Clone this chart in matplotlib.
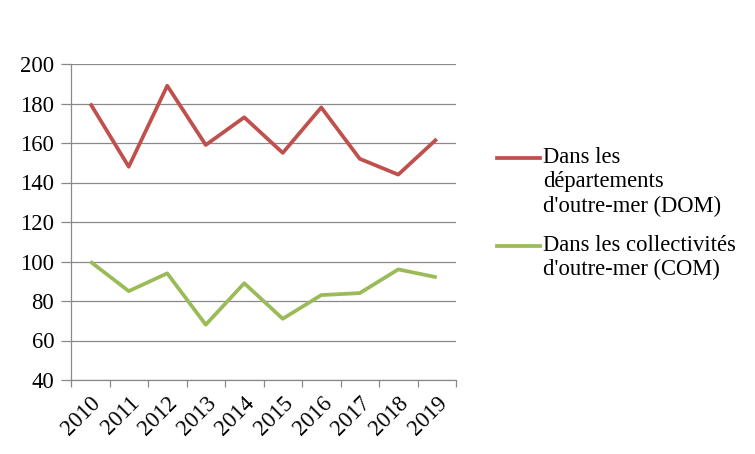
import matplotlib.pyplot as plt
from matplotlib.lines import Line2D

# ---------------------------------------------------------------- data
years = ['2010', '2011', '2012', '2013', '2014', '2015', '2016', '2017', '2018', '2019']
dom = [180, 148, 189, 159, 173, 155, 178, 152, 144, 162]
com = [100, 85, 94, 68, 89, 71, 83, 84, 96, 92]
labels = ["Dans les\ndépartements\nd'outre-mer (DOM)",
          "Dans les collectivités\nd'outre-mer (COM)"]

C_RED, C_GREEN, C_GRID = '#C0504D', '#9BBB59', '#898989'
FS = 16.3

plt.rcParams['font.family'] = ['Liberation Serif', 'DejaVu Serif']

fig = plt.figure(figsize=(7.55, 4.54), dpi=100)
ax = fig.add_axes([71 / 755, 74 / 454, 385 / 755, 316 / 454])

x = list(range(len(years)))
ax.plot(x, dom, color=C_RED, lw=2.7, solid_capstyle='butt')
ax.plot(x, com, color=C_GREEN, lw=2.7, solid_capstyle='butt')

ax.set_xlim(-0.5, len(years) - 0.5)
ax.set_ylim(40, 200)
ax.set_yticks(range(40, 201, 20))
ax.yaxis.grid(True, color=C_GRID, lw=0.9)
ax.set_axisbelow(True)

# category boundary ticks
ax.set_xticks([i - 0.5 for i in range(len(years) + 1)])
ax.set_xticklabels([])
ax.set_xticks(x, minor=True)
ax.set_xticklabels(years, minor=True, rotation=45, ha='right',
                   rotation_mode='anchor', fontsize=FS)
ax.tick_params(axis='x', which='minor', length=0, pad=9)
ax.tick_params(axis='x', which='major', length=5, color=C_GRID, width=0.9)
ax.tick_params(axis='y', length=7, color=C_GRID, width=0.9, labelsize=FS, pad=5)

for side in ['top', 'right']:
    ax.spines[side].set_visible(False)
for side in ['left', 'bottom']:
    ax.spines[side].set_color(C_GRID)
    ax.spines[side].set_linewidth(0.9)

# legend drawn by hand: handle sits on the first text line
for lab, col, ytop in [(labels[0], C_RED, 147), (labels[1], C_GREEN, 235)]:
    yl = 1 - (ytop + 11) / 454
    fig.add_artist(Line2D([497 / 755, 540 / 755], [yl, yl], color=col, lw=2.7,
                          transform=fig.transFigure))
    fig.text(543 / 755, 1 - ytop / 454, lab, fontsize=FS, va='top', ha='left',
             linespacing=1.2)

fig.savefig('out.png', dpi=100)
